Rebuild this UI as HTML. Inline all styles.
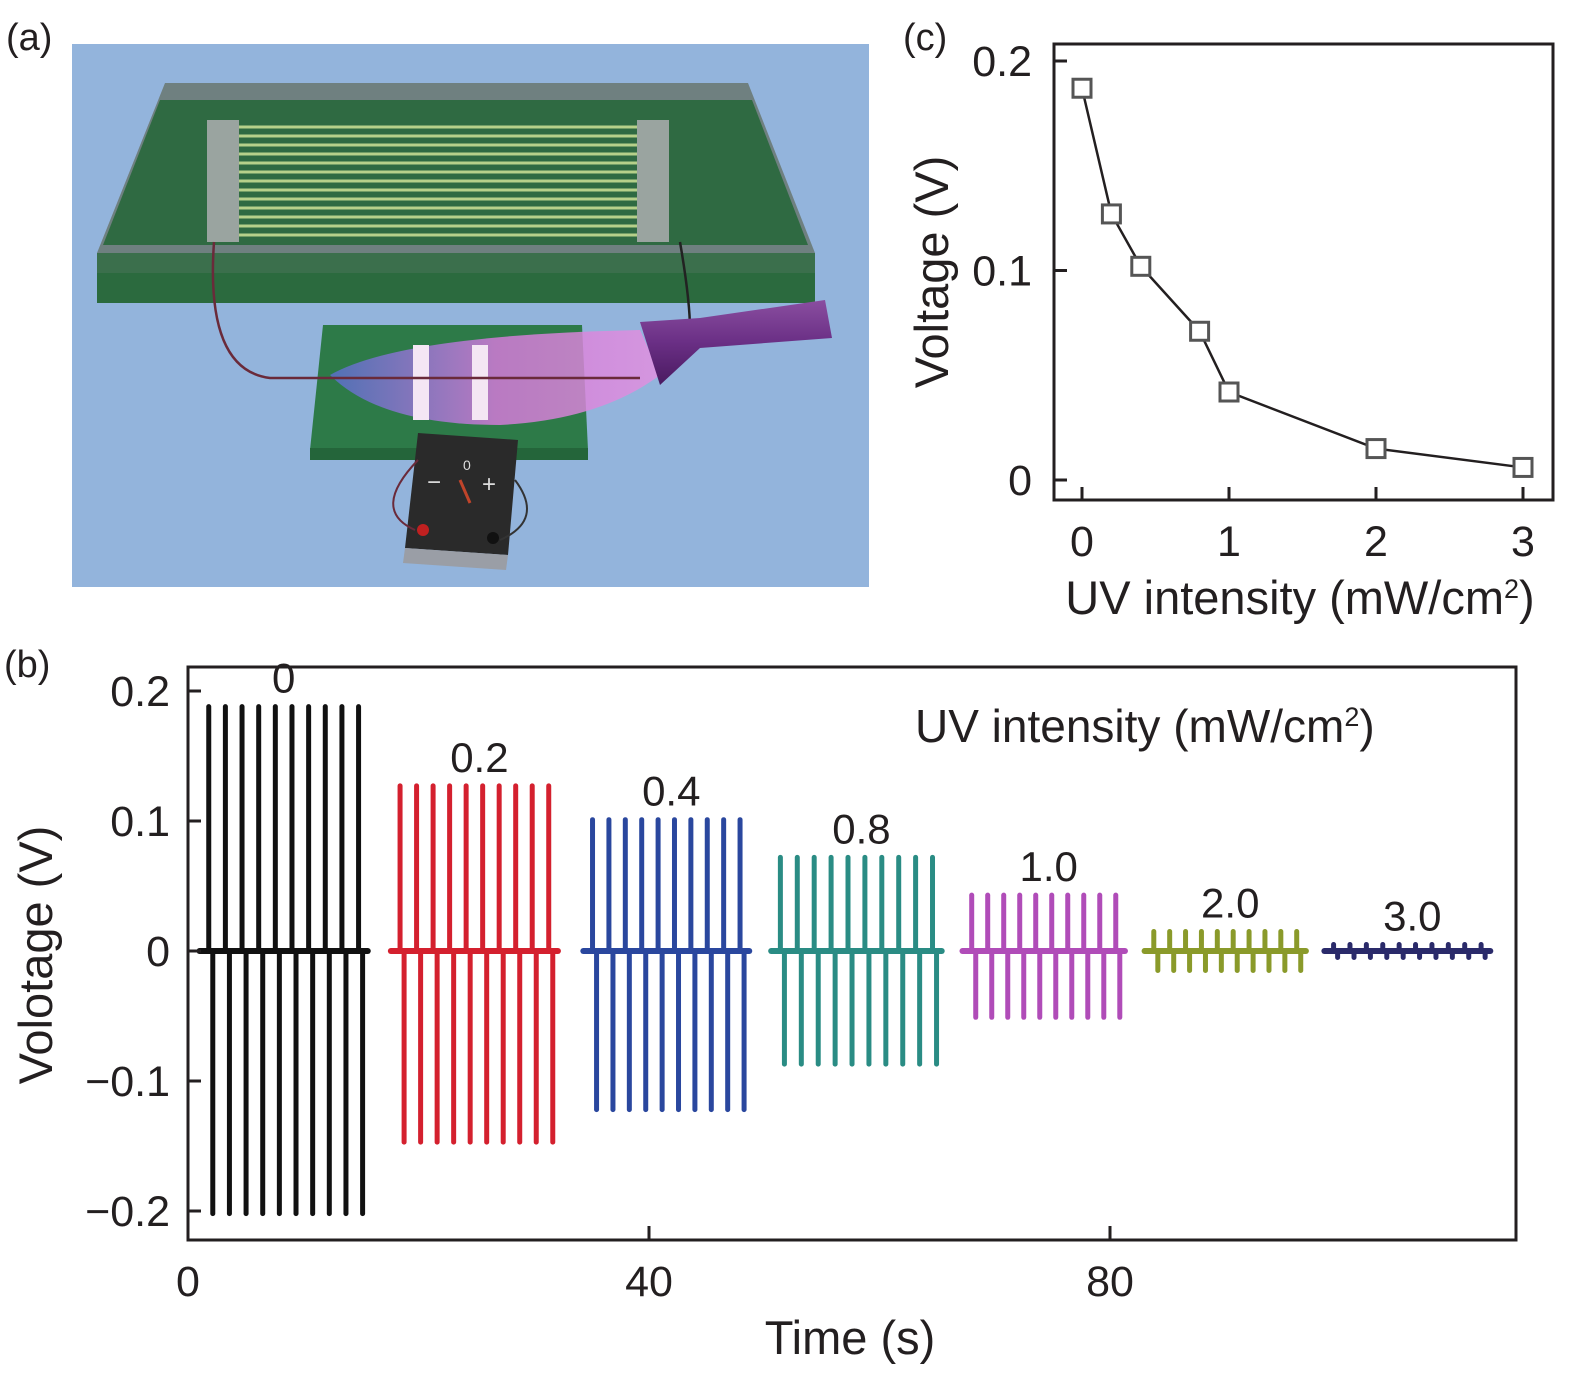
<!DOCTYPE html>
<html><head><meta charset="utf-8"><style>
html,body{margin:0;padding:0;background:#fff;}
svg{display:block;font-family:"Liberation Sans",sans-serif;}
</style></head><body>
<svg id="fig" width="1575" height="1378" viewBox="0 0 1575 1378" xmlns="http://www.w3.org/2000/svg">
<defs>
<linearGradient id="beam" x1="0" x2="1"><stop offset="0" stop-color="#5a6fd0" stop-opacity="0.8"/><stop offset="0.5" stop-color="#d27ad8" stop-opacity="0.85"/><stop offset="1" stop-color="#e58fe0" stop-opacity="0.8"/></linearGradient>
<linearGradient id="torch" x1="0" y1="0" x2="0" y2="1"><stop offset="0" stop-color="#8a4ea0"/><stop offset="0.5" stop-color="#6a2f85"/><stop offset="1" stop-color="#4a1a60"/></linearGradient>
</defs>
<g>
<rect x="72" y="44" width="797" height="543" fill="#93b4dc"/>
<polygon points="165,83 748,83 815,253 97,253" fill="#6f8080"/>
<polygon points="160,100 752,100 808,245 103,245" fill="#2f6a42"/>
<rect x="97" y="253" width="718" height="50" fill="#2b6a3e"/>
<rect x="97" y="253" width="718" height="20" fill="#3b6f4c"/>
<rect x="207" y="120" width="32" height="122" fill="#9aa4a0"/>
<rect x="637" y="120" width="32" height="122" fill="#9aa4a0"/>
<g stroke="#b6d08a" stroke-width="3">
<line x1="239" y1="127" x2="637" y2="127"/><line x1="239" y1="136" x2="637" y2="136"/><line x1="239" y1="145" x2="637" y2="145"/><line x1="239" y1="154" x2="637" y2="154"/><line x1="239" y1="163" x2="637" y2="163"/><line x1="239" y1="172" x2="637" y2="172"/><line x1="239" y1="181" x2="637" y2="181"/><line x1="239" y1="190" x2="637" y2="190"/><line x1="239" y1="199" x2="637" y2="199"/><line x1="239" y1="208" x2="637" y2="208"/><line x1="239" y1="217" x2="637" y2="217"/><line x1="239" y1="226" x2="637" y2="226"/><line x1="239" y1="235" x2="637" y2="235"/>
</g>
<polygon points="323,325 582,325 588,450 310,450" fill="#2d7a48"/>
<rect x="310" y="448" width="278" height="12" fill="#24653a"/>
<path d="M330,375 Q400,335 640,330 L660,375 Q600,420 500,425 Q380,425 330,375Z" fill="url(#beam)"/>
<rect x="413" y="345" width="16" height="75" fill="#f4e6f4"/>
<rect x="472" y="345" width="16" height="75" fill="#f4e6f4"/>
<path d="M214,242 Q205,370 270,378 L640,378" fill="none" stroke="#6a2a3a" stroke-width="2.5"/>
<path d="M680,242 Q690,300 690,330" fill="none" stroke="#222" stroke-width="2.5"/>
<path d="M640,322 L700,318 L825,300 L832,338 L700,348 L660,385 Z" fill="url(#torch)"/>
<polygon points="418,433 518,440 508,555 405,548" fill="#2a2a2a"/>
<polygon points="405,548 508,555 506,570 403,563" fill="#9a9ea6"/>
<text x="463" y="470" font-size="14" fill="#ddd">0</text>
<text x="427" y="490" font-size="24" fill="#ddd">−</text>
<text x="482" y="492" font-size="24" fill="#ddd">+</text>
<line x1="460" y1="480" x2="470" y2="503" stroke="#c0442a" stroke-width="3"/>
<circle cx="423" cy="530" r="6" fill="#c02020"/><circle cx="493" cy="538" r="6" fill="#111"/>
<path d="M418,460 Q370,510 415,530" fill="none" stroke="#6a2a3a" stroke-width="2"/>
<path d="M515,480 Q545,520 500,540" fill="none" stroke="#333" stroke-width="2"/>
</g>
<text x="6" y="50" font-size="38" fill="#231f20">(a)</text>
<text x="903" y="50" font-size="38" fill="#231f20">(c)</text>
<text x="4" y="677" font-size="38" fill="#231f20">(b)</text>
<g id="chartB"></g>
<g id="chartC"></g>
</svg>
<script>
// Panel b data
const bLabels = ["0","0.2","0.4","0.8","1.0","2.0","3.0"];
const bColors = ["#111111","#d4202e","#2a479e","#2a8c84","#b04cb8","#8a9a2a","#2a2a6a"];
const bStart = [1.0, 17.6, 34.3, 50.6, 67.2, 83.0, 98.6];
const bEnd = [15.6, 32.1, 48.7, 65.4, 81.3, 97.0, 113.0];
const bPos = [0.188, 0.127, 0.101, 0.072, 0.043, 0.015, 0.005];
const bNeg = [-0.202, -0.147, -0.122, -0.087, -0.051, -0.015, -0.005];
const bXTicks = [0, 40, 80];
const bYTicks = [0.2, 0.1, 0, -0.1, -0.2];
const bYTickLabels = ["0.2","0.1","0","\u22120.1","\u22120.2"];
// Panel c data
const cX = [0, 0.2, 0.4, 0.8, 1, 2, 3];
const cY = [0.187, 0.127, 0.102, 0.071, 0.042, 0.015, 0.006];
const cXTicks = [0, 1, 2, 3];
const cYTicks = [0.2, 0.1, 0];
const cYTickLabels = ["0.2","0.1","0"];

const NS = "http://www.w3.org/2000/svg";
function mk(parent, tag, attrs, text){const e=document.createElementNS(NS,tag);for(const k in attrs)e.setAttribute(k,attrs[k]);if(text!==undefined)e.textContent=text;parent.appendChild(e);return e;}

const gB = document.getElementById('chartB');
const bx = t => 188 + t * 11.525;
const by = v => 951 - v * 1300;
for (let g = 0; g < bLabels.length; g++) {
  const grp = mk(gB,'g',{});
  
  
  const base = mk(grp,'line',{x1:bx(bStart[g]),x2:bx(bEnd[g]),y1:by(0),y2:by(0),stroke:bColors[g],'stroke-width':6,'stroke-linecap':'round'});
  
  
  const sp = (bEnd[g]-bStart[g]-1.6)/9;
  for (let i = 0; i < 10; i++) {
    const t = bStart[g] + 0.8 + i*sp;
    const up = mk(grp,'line',{x1:bx(t),x2:bx(t),y1:by(0),y2:by(bPos[g]),stroke:bColors[g],'stroke-width':5,'stroke-linecap':'round'});
    
    
    const dn = mk(grp,'line',{x1:bx(t+0.35),x2:bx(t+0.35),y1:by(0),y2:by(bNeg[g]),stroke:bColors[g],'stroke-width':5,'stroke-linecap':'round'});
    
    
  }
  const lbl = mk(gB,'text',{x:bx((bStart[g]+bEnd[g])/2)+ (g==0?0:5),y:by(bPos[g])-14,'font-size':42,'text-anchor':'middle',fill:'#231f20'},bLabels[g]);
  
  
}
const frameB = mk(gB,'rect',{x:188,y:667,width:1328,height:573,fill:'none',stroke:'#231f20','stroke-width':3});


bYTicks.forEach((v,i)=>{
  const tk = mk(gB,'line',{x1:188,x2:201,y1:by(v),y2:by(v),stroke:'#231f20','stroke-width':3});
  
  
  const tl = mk(gB,'text',{x:170,y:by(v)+15,'font-size':43,'text-anchor':'end',fill:'#231f20'},bYTickLabels[i]);
  
  
});
bXTicks.forEach(v=>{
  const tk = mk(gB,'line',{x1:bx(v),x2:bx(v),y1:1240,y2:1226,stroke:'#231f20','stroke-width':3});
  
  
  const tl = mk(gB,'text',{x:bx(v),y:1296,'font-size':43,'text-anchor':'middle',fill:'#231f20'},String(v));
  
  
});
const bxt = mk(gB,'text',{x:850,y:1354,'font-size':47,'text-anchor':'middle',fill:'#231f20'},'Time (s)');


const byt = mk(gB,'text',{x:0,y:0,'font-size':47,'text-anchor':'middle',fill:'#231f20',transform:'translate(52,955) rotate(-90)'},'Volotage (V)');


const leg = mk(gB,'text',{x:915,y:742,'font-size':46,fill:'#231f20'},'UV intensity (mW/cm');


mk(leg,'tspan',{dy:-16,'font-size':27},'2');
mk(leg,'tspan',{dy:16},')');

const gC = document.getElementById('chartC');
const cx = v => 1082 + v*147;
const cy = v => 480 - v*2095;
const frameC = mk(gC,'rect',{x:1054,y:44,width:499,height:456,fill:'none',stroke:'#231f20','stroke-width':3});


cYTicks.forEach((v,i)=>{
  const tk = mk(gC,'line',{x1:1054,x2:1067,y1:cy(v),y2:cy(v),stroke:'#231f20','stroke-width':3});
  
  
  const tl = mk(gC,'text',{x:1032,y:cy(v)+15,'font-size':43,'text-anchor':'end',fill:'#231f20'},cYTickLabels[i]);
  
  
});
cXTicks.forEach(v=>{
  const tk = mk(gC,'line',{x1:cx(v),x2:cx(v),y1:500,y2:487,stroke:'#231f20','stroke-width':3});
  
  
  const tl = mk(gC,'text',{x:cx(v),y:556,'font-size':43,'text-anchor':'middle',fill:'#231f20'},String(v));
  
  
});
const pts = cX.map((x,i)=>cx(x)+','+cy(cY[i])).join(' ');
const ln = mk(gC,'polyline',{points:pts,fill:'none',stroke:'#231f20','stroke-width':2.5});


cX.forEach((x,i)=>{
  const m = mk(gC,'rect',{x:cx(x)-9,y:cy(cY[i])-9,width:18,height:18,fill:'#fff',stroke:'#555','stroke-width':3});
  
  
});
const cxt = mk(gC,'text',{x:1300,y:614,'font-size':47,'text-anchor':'middle',fill:'#231f20'},'UV intensity (mW/cm');


mk(cxt,'tspan',{dy:-16,'font-size':27},'2');
mk(cxt,'tspan',{dy:16},')');
const cyt = mk(gC,'text',{x:0,y:0,'font-size':47,'text-anchor':'middle',fill:'#231f20',transform:'translate(948,272) rotate(-90)'},'Voltage (V)');


</script>
</body></html>
